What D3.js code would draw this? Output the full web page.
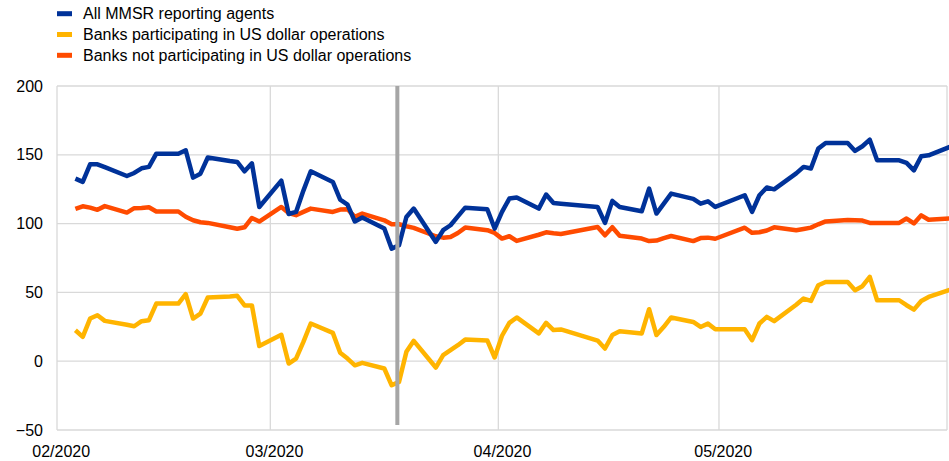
<!DOCTYPE html>
<html>
<head>
<meta charset="utf-8">
<script src="https://cdn.jsdelivr.net/npm/d3@7"></script>
<style>
    body { margin: 0; background: #fff; }
    svg { display: block; font-family: "Liberation Sans", Arial, sans-serif; }
</style>
</head>
<body>
<div class="chart"></div>
<script>
// business days
const dates = [
    "2020-02-03","2020-02-04","2020-02-05","2020-02-06","2020-02-07","2020-02-10","2020-02-11","2020-02-12","2020-02-13","2020-02-14",
    "2020-02-17","2020-02-18","2020-02-19","2020-02-20","2020-02-21","2020-02-24","2020-02-25","2020-02-26","2020-02-27","2020-02-28",
    "2020-03-02","2020-03-03","2020-03-04","2020-03-05","2020-03-06","2020-03-09","2020-03-10","2020-03-11","2020-03-12","2020-03-13",
    "2020-03-16","2020-03-17","2020-03-18","2020-03-19","2020-03-20","2020-03-23","2020-03-24","2020-03-25","2020-03-26","2020-03-27",
    "2020-03-30","2020-03-31",
    "2020-04-01","2020-04-02","2020-04-03","2020-04-06","2020-04-07","2020-04-08","2020-04-09","2020-04-14","2020-04-15","2020-04-16",
    "2020-04-17","2020-04-20","2020-04-21","2020-04-22","2020-04-23","2020-04-24","2020-04-27","2020-04-28","2020-04-29","2020-04-30",
    "2020-05-04","2020-05-05","2020-05-06","2020-05-07","2020-05-08","2020-05-11","2020-05-12","2020-05-13","2020-05-14","2020-05-15",
    "2020-05-18","2020-05-19","2020-05-20","2020-05-21","2020-05-22","2020-05-25","2020-05-26","2020-05-27","2020-05-28","2020-05-29",
    "2020-06-01"
];

const all_agents = [
    132.7,130.3,143.1,143.1,141,134.6,136.8,140.2,141.2,150.8,
    150.8,153.3,133.4,136.3,148,145.5,144.8,138,143.8,112.1,
    131.2,107,108.5,124,138,130.3,117.4,113.8,101.5,104.4,
    96.4,81.8,84.3,104.8,110.9,86.7,95.2,98.8,105.3,111.6,
    110.4,96.4,
    108.5,118.2,118.9,110.9,121.1,115,114.5,112.1,100.5,116.5,
    112.1,109,125.4,107.3,114.5,121.8,118,114.5,116.2,112.1,
    120.6,108.5,120.6,126.2,124.9,136.5,141.2,140,154.5,158.6,
    158.6,152.8,156.2,161,146,146,144.1,138.7,148.9,149.6,
    156
];

const participating = [
    22.5,17.7,31,33.4,29.3,26.5,25.4,29.1,29.8,41.9,
    41.9,48.7,31,34.6,46.3,47,47.5,40.5,40.5,11,
    19.2,-1.7,1.9,14,27.4,20.6,6.1,1.9,-3,-1.2,
    -5.3,-17.5,-15,6.8,14.8,-4.6,4.4,8,11.6,15.7,
    15.1,2.7,
    18.5,27.9,31.8,20.2,27.9,22.6,23.1,15,9.2,19,
    21.7,20.2,37.8,19,25,31.8,28.5,24.9,27.3,23.2,
    23.2,15.3,27.4,32.2,29.1,41,45.5,43.8,55.2,57.6,
    57.6,51.6,54.5,61.3,44.3,44.3,40.7,37.5,43.8,46.7,
    52
];

const not_participating = [
    110.7,112.6,111.6,110,112.7,108,111.2,111.4,111.9,108.8,
    108.8,105,102.4,101,100.5,97.3,96.3,97.3,104.1,101.5,
    112.1,107.7,106.1,108.5,110.9,108.5,110.2,110.4,104.9,107.3,
    102.4,99.5,99.5,98.1,96.9,90.8,89.8,90.3,93.2,97.1,
    95.2,93.2,
    89.1,90.8,87.4,91.9,93.7,93,92.5,97.5,91.5,97.4,
    91.2,89.1,87.3,87.7,89.5,91,87.3,89.5,89.8,89,
    97,93.3,93.7,95,97.3,95.2,96.1,97.1,99.5,101.6,
    102.7,102.5,102.2,100.5,100.5,100.5,103.7,100.1,106,102.8,
    103.8
];

const series_names = [
    "All MMSR reporting agents",
    "Banks participating in US dollar operations",
    "Banks not participating in US dollar operations"
];
const series_colors = ["#003299", "#ffb400", "#ff4b00"];

const y_ticks = [-50, 0, 50, 100, 150, 200];
const month_ticks = ["2020-02-01", "2020-03-01", "2020-04-01", "2020-05-01", "2020-06-01"];
const month_labels = ["2020-02-01", "2020-03-01", "2020-04-01", "2020-05-01"];
const event_date = "2020-03-18";

const width = 949;
const height = 461;
const plot = { left: 57, right: 947, top: 86, bottom: 430 };

const parseDay = d3.timeParse("%Y-%m-%d");
// points sit in the middle of their day slot (date axis, between tick marks)
const mid = function(s) { return d3.timeHour.offset(parseDay(s), 12); };

const svg = d3.select(".chart")
    .append("svg")
    .attr("width", width)
    .attr("height", height);

const x_scale = d3.scaleTime()
    .domain([parseDay("2020-02-01"), parseDay("2020-06-01")])
    .range([plot.left, plot.right]);

const y_scale = d3.scaleLinear()
    .domain([-50, 200])
    .range([plot.bottom, plot.top]);

/* GRID */
svg.append("g")
    .selectAll("line")
    .data(y_ticks)
    .enter()
    .append("line")
    .attr("x1", plot.left)
    .attr("x2", plot.right)
    .attr("y1", function(d) { return y_scale(d); })
    .attr("y2", function(d) { return y_scale(d); })
    .attr("stroke", "#d9d9d9")
    .attr("stroke-width", 1.3);

svg.append("g")
    .selectAll("line")
    .data(month_ticks)
    .enter()
    .append("line")
    .attr("x1", function(d) { return x_scale(parseDay(d)); })
    .attr("x2", function(d) { return x_scale(parseDay(d)); })
    .attr("y1", plot.top)
    .attr("y2", plot.bottom)
    .attr("stroke", "#d9d9d9")
    .attr("stroke-width", 1.3);

/* AXES */
const x_axis = svg.append("g")
    .attr("transform", "translate(0," + plot.bottom + ")")
    .call(d3.axisBottom(x_scale)
        .tickValues(month_labels.map(mid))
        .tickFormat(d3.timeFormat("%m/%Y"))
        .tickSize(0)
        .tickPadding(16));

const y_axis = svg.append("g")
    .attr("transform", "translate(" + plot.left + ",0)")
    .call(d3.axisLeft(y_scale)
        .tickValues(y_ticks)
        .tickSize(0)
        .tickPadding(14));

svg.selectAll(".domain").remove();
svg.selectAll(".tick text")
    .attr("font-family", "Liberation Sans, Arial, sans-serif")
    .attr("font-size", 16)
    .attr("fill", "#000");

/* LINES */
const all_series = [all_agents, participating, not_participating];
const line = d3.line()
    .x(function(d, i) { return x_scale(mid(dates[i])); })
    .y(function(d) { return y_scale(d); });

// draw order: yellow, orange, blue on top
[1, 2, 0].forEach(function(k) {
    svg.append("path")
        .datum(all_series[k])
        .attr("fill", "none")
        .attr("stroke", series_colors[k])
        .attr("stroke-width", 4.5)
        .attr("stroke-linejoin", "round")
        .attr("d", line);
});

// vertical marker
svg.append("line")
    .attr("x1", x_scale(parseDay(event_date)) + 2)
    .attr("x2", x_scale(parseDay(event_date)) + 2)
    .attr("y1", plot.top)
    .attr("y2", plot.bottom - 5)
    .attr("stroke", "#a6a6a6")
    .attr("stroke-width", 4);

/* LEGEND */
const legend = svg.append("g")
    .selectAll("g")
    .data(series_names)
    .enter()
    .append("g")
    .attr("transform", function(d, i) { return "translate(57," + (13.7 + i * 20.8) + ")"; });

legend.append("rect")
    .attr("x", 0)
    .attr("y", -2.5)
    .attr("width", 15)
    .attr("height", 5)
    .attr("fill", function(d, i) { return series_colors[i]; });

legend.append("text")
    .attr("x", 26)
    .attr("dy", "0.35em")
    .attr("font-size", 16)
    .attr("fill", "#000")
    .text(function(d) { return d; });
</script>
</body>
</html>
